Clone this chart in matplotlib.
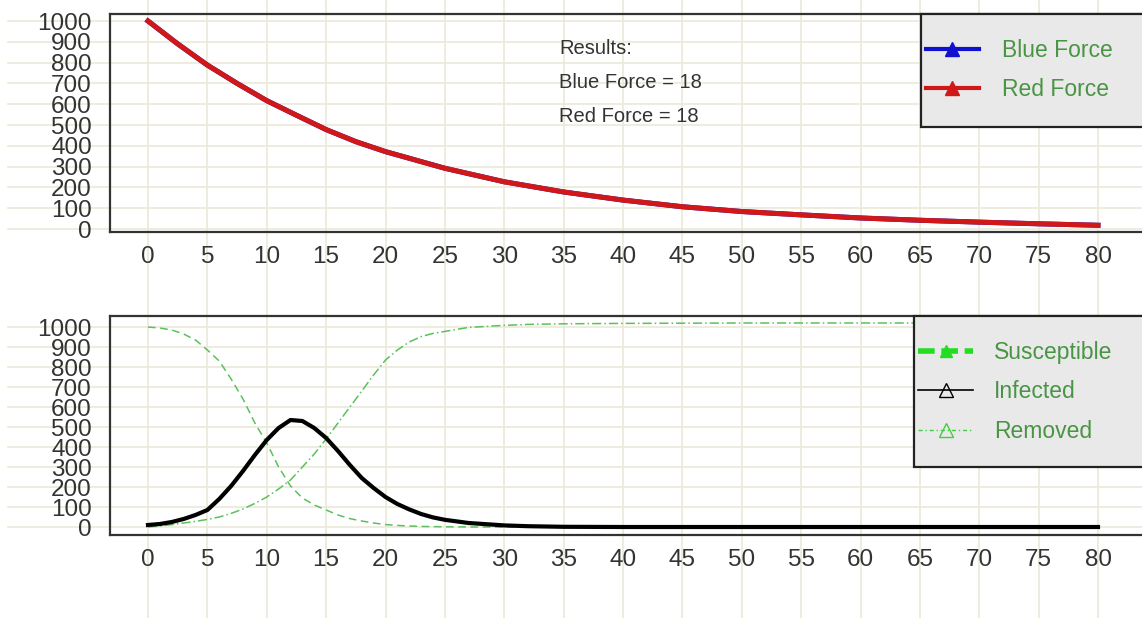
import matplotlib
matplotlib.use('Agg')
import matplotlib.pyplot as plt
from matplotlib.lines import Line2D
from matplotlib.patches import Rectangle

plt.rcParams['font.family'] = ['Liberation Sans', 'DejaVu Sans']

# ---- data ----
x_ticks = list(range(0, 81, 5))
y_ticks = list(range(0, 1001, 100))

force_t = [0, 2.5, 5, 7.5, 10, 12.5, 15, 17.5, 20, 25, 30, 35, 40, 45, 50,
           55, 60, 65, 70, 75, 80]
blue_force = [1000, 890, 788, 700, 617, 547, 478, 420, 372, 292, 227, 178,
              139, 107, 84, 68, 53, 42, 33, 25, 18]
red_force = [1000, 890, 788, 700, 617, 547, 478, 420, 372, 292, 227, 178,
             139, 107, 84, 68, 53, 42, 33, 25, 18]

sir_t = [0, 1, 2, 3, 4, 5, 6, 7, 8, 9, 10, 11, 12, 13, 14, 15, 16, 17, 18,
         19, 20, 21, 22, 23, 24, 25, 27, 30, 32, 35, 40, 50, 60, 70, 80]
susceptible = [1000, 995, 985, 965, 935, 885, 830, 740, 640, 520, 420, 300,
               205, 145, 110, 85, 60, 42, 30, 20, 12, 8, 5, 3, 2, 1, 0, 0,
               0, 0, 0, 0, 0, 0, 0]
infected = [10, 15, 25, 40, 60, 85, 140, 205, 280, 360, 435, 495, 535, 530,
            495, 445, 380, 310, 245, 195, 150, 115, 88, 65, 48, 36, 20, 8,
            4, 1, 0, 0, 0, 0, 0]
removed = [0, 5, 12, 20, 28, 38, 50, 68, 90, 118, 150, 190, 235, 300, 365,
           440, 520, 600, 680, 760, 835, 885, 925, 952, 968, 978, 998, 1008,
           1013, 1016, 1018, 1020, 1020, 1020, 1020]

result_lines = ['Results:', 'Blue Force = 18', 'Red Force = 18']

# ---- layout helpers (pixels of a 1142x618 image) ----
W, H = 1142, 618
PX_PER_X = 11.875          # 0 -> px 148, 80 -> px 1098
X0_PX = 148


def fx(px):
    return px / W


def fy(py):
    return 1 - py / H


def xdata(px):
    return (px - X0_PX) / PX_PER_X


grid_color = '#ebe9d8'
legend_green = '#4a9445'
text_gray = '#333333'

fig = plt.figure(figsize=(11.42, 6.18), dpi=100)

# vertical grid lines run through the whole picture
bg = fig.add_axes([0, 0, 1, 1], zorder=-1)
bg.set_xlim(xdata(0), xdata(W))
bg.set_ylim(0, 1)
bg.axis('off')
for t in x_ticks:
    bg.axvline(t, color=grid_color, lw=1.2)


def setup_axes(ax, top_px, bottom_px, zero_px, px_per_unit):
    ax.set_facecolor('none')
    ax.set_xlim(xdata(110), xdata(W))
    ax.set_ylim((zero_px - bottom_px) / px_per_unit,
                (zero_px - top_px) / px_per_unit)
    ax.set_xticks(x_ticks)
    ax.set_yticks(y_ticks)
    ax.tick_params(axis='x', length=0, pad=10, labelsize=17.5,
                   labelcolor=text_gray)
    ax.tick_params(axis='y', length=0, pad=13, labelsize=17.5,
                   labelcolor=text_gray)
    ax.spines['right'].set_visible(False)
    for s in ('top', 'left', 'bottom'):
        ax.spines[s].set_color('#333333')
        ax.spines[s].set_linewidth(1.6)
    # horizontal grid lines run out to the left edge of the picture
    xmin = (8 - 110) / (W - 110)
    for v in y_ticks:
        ax.axhline(v, xmin=xmin, xmax=1, color=grid_color, lw=1.2,
                   clip_on=False, zorder=0)


ax_top = fig.add_axes([fx(110), fy(232), 1 - fx(110), (232 - 14) / H])
setup_axes(ax_top, 14, 232, 229, 0.208)
ax_top.plot(force_t, blue_force, color='#1010d0', lw=3.6, zorder=3)
ax_top.plot(force_t, red_force, color='#d01818', lw=3.6, zorder=4)

ax_bot = fig.add_axes([fx(110), fy(535), 1 - fx(110), (535 - 316) / H])
setup_axes(ax_bot, 316, 535, 527, 0.2)
ax_bot.plot(sir_t, susceptible, color='#5cc05c', lw=1.1, ls=(0, (5, 3)),
            zorder=3)
ax_bot.plot(sir_t, removed, color='#5cc05c', lw=1.1, ls=(0, (6, 2, 1, 2)),
            zorder=3)
ax_bot.plot(sir_t, infected, color='black', lw=3.0, zorder=4)

# results text
for i, line in enumerate(result_lines):
    fig.text(fx(559), fy(48 + i * 34.5), line, fontsize=14.5,
             color=text_gray, va='center', ha='left')

# top legend
fig.add_artist(Rectangle((fx(921), fy(127)), fx(240), (127 - 14) / H,
                         transform=fig.transFigure, facecolor='#e9e9e9',
                         edgecolor='#222222', lw=1.6, zorder=4))
top_handles = [
    Line2D([], [], color='#1010d0', lw=3, marker='^', ms=10),
    Line2D([], [], color='#d01818', lw=3, marker='^', ms=10),
]
leg1 = fig.legend(top_handles, ['Blue Force', 'Red Force'], loc='center left',
                  bbox_to_anchor=(fx(926), fy(70)), frameon=False,
                  borderpad=0, borderaxespad=0, numpoints=1,
                  handlelength=2.3, handletextpad=1.0, labelspacing=0.72,
                  fontsize=16.5, labelcolor=legend_green)
leg1.set_zorder(5)

# bottom legend
fig.add_artist(Rectangle((fx(914), fy(467)), fx(240), (467 - 316) / H,
                         transform=fig.transFigure, facecolor='#e9e9e9',
                         edgecolor='#222222', lw=1.6, zorder=4))
bot_handles = [
    Line2D([], [], color='#22dd22', lw=4, ls=(0, (3, 1.2)), marker='^',
           ms=9),
    Line2D([], [], color='black', lw=1.2, marker='^', ms=10, mfc='none'),
    Line2D([], [], color='#44cc44', lw=1.0, ls=(0, (3, 2, 1, 2)), marker='^',
           ms=10, mfc='none'),
]
leg2 = fig.legend(bot_handles, ['Susceptible', 'Infected', 'Removed'],
                  loc='center left', bbox_to_anchor=(fx(918), fy(392)),
                  frameon=False, borderpad=0, borderaxespad=0, numpoints=1,
                  handlelength=2.4, handletextpad=0.9, labelspacing=0.7,
                  fontsize=16.5, labelcolor=legend_green)
leg2.set_zorder(5)

fig.savefig('out.png', dpi=100)
